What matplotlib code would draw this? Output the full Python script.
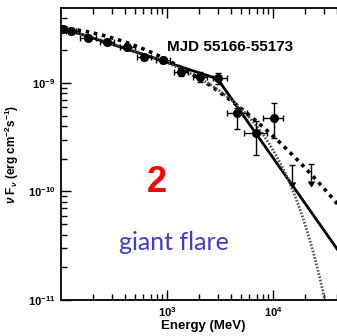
import numpy as np
import matplotlib
matplotlib.use("Agg")
import matplotlib.pyplot as plt
from matplotlib.ticker import LogLocator, FuncFormatter, NullFormatter

plt.rcParams['font.family'] = ['Liberation Sans', 'DejaVu Sans']
plt.rcParams['mathtext.fontset'] = 'custom'
plt.rcParams['mathtext.rm'] = 'Liberation Sans:bold'
plt.rcParams['mathtext.bf'] = 'Liberation Sans:bold'
plt.rcParams['mathtext.it'] = 'Liberation Sans:bold:italic'

# Fermi-LAT flux points (MeV, erg cm^-2 s^-1)
energy = [105, 124, 180, 272, 420, 607, 917, 1355, 2046, 3006, 4548, 6918, 10200]
flux = [3.15e-9, 3.02e-9, 2.61e-9, 2.39e-9, 2.15e-9, 1.74e-9, 1.63e-9,
        1.26e-9, 1.135e-9, 1.10e-9, 5.25e-10, 3.45e-10, 4.78e-10]
e_lo = [98, 112, 152, 232, 362, 520, 790, 1170, 1760, 2735, 3656, 5321, 8050]
e_hi = [115, 140, 212, 318, 495, 712, 1075, 1580, 2400, 3707, 5650, 8770, 12360]
f_lo = [2.95e-9, 2.85e-9, 2.47e-9, 2.26e-9, 2.03e-9, 1.63e-9, 1.52e-9,
        1.16e-9, 1.03e-9, 0.98e-9, 3.76e-10, 2.16e-10, 3.10e-10]
f_hi = [3.35e-9, 3.2e-9, 2.76e-9, 2.53e-9, 2.28e-9, 1.86e-9, 1.75e-9,
        1.37e-9, 1.25e-9, 1.236e-9, 5.88e-10, 4.46e-10, 6.58e-10]

# upper limits
ul_energy = [15000, 22700]
ul_flux = [1.75e-10, 1.78e-10]

# model parameters
bpl_eb, bpl_fb, bpl_g1, bpl_g2 = 3000.0, 1.09e-9, 2.32, 3.39
lp_e0, lp_f0, lp_alpha, lp_beta = 1000.0, 1.63e-9, 2.498, 0.0886
ec_k, ec_gamma, ec_cut = 3.2e-9, 2.26, 7200.0

e = np.logspace(2, 5, 400)
bpl = np.where(e < bpl_eb, bpl_fb * (e / bpl_eb) ** (2 - bpl_g1),
               bpl_fb * (e / bpl_eb) ** (2 - bpl_g2))
lp = lp_f0 * (e / lp_e0) ** (2 - lp_alpha - lp_beta * np.log(e / lp_e0))
plec = ec_k * (e / 100.0) ** (2 - ec_gamma) * np.exp(-e / ec_cut)

fig = plt.figure(figsize=(3.37, 3.36), dpi=100)
ax = fig.add_axes([61 / 337, 36 / 336, 318 / 337, 292 / 336])

ax.plot(e, bpl, '-', color='black', lw=2.0)
ax.plot(e, lp, color='black', lw=2.6, linestyle=(0, (1, 1.3)))
ax.plot(e, plec, color='#555555', lw=2.0, linestyle=(0, (0.6, 0.6)))

energy = np.array(energy)
flux = np.array(flux)
xerr = [energy - np.array(e_lo), np.array(e_hi) - energy]
yerr = [flux - np.array(f_lo), np.array(f_hi) - flux]
ax.errorbar(energy, flux, xerr=xerr, yerr=yerr, fmt='o', color='black',
            ms=5.5, elinewidth=1.0, capsize=2.5, capthick=1.0, zorder=5)
ax.errorbar(ul_energy, ul_flux, yerr=np.array(ul_flux) * 0.3, uplims=True,
            fmt='none', color='black', ecolor='black', elinewidth=1.0,
            capsize=2.5)

ax.set_xscale('log')
ax.set_yscale('log')
ax.set_xlim(100, 1e5)
ax.set_ylim(1e-11, 4.9e-9)

fmt = FuncFormatter(lambda v, p: r'$\mathbf{10^{%d}}$' % round(np.log10(v)))
ax.set_xticks([1e3, 1e4])
ax.set_yticks([1e-11, 1e-10, 1e-9])
ax.xaxis.set_minor_locator(LogLocator(base=10, subs=np.arange(2, 10), numticks=10))
ax.yaxis.set_minor_locator(LogLocator(base=10, subs=np.arange(2, 10), numticks=10))
ax.xaxis.set_major_formatter(fmt)
ax.yaxis.set_major_formatter(fmt)
ax.xaxis.set_minor_formatter(NullFormatter())
ax.yaxis.set_minor_formatter(NullFormatter())
ax.tick_params(which='both', direction='in', top=True, right=False,
               labelsize=8, width=1.0)
ax.tick_params(which='major', length=7, pad=4)
ax.tick_params(which='minor', length=4)
for s in ax.spines.values():
    s.set_linewidth(1.3)

ax.set_xlabel('Energy (MeV)', fontsize=9.5, fontweight='bold')
ax.xaxis.set_label_coords(0.447, -0.068)
ax.set_ylabel(r'$\nu$ F$_{\nu}$ (erg cm$^{-2}$s$^{-1}$)', fontsize=8.5,
              fontweight='bold')
ax.yaxis.set_label_coords(-0.125, 0.5)

fig.text(167 / 337, 1 - 47 / 336, 'MJD 55166-55173', fontsize=11,
         fontweight='bold', va='center', ha='left')
fig.text(157 / 337, 1 - 183 / 336, '2', color='#ff0000', fontsize=26,
         fontweight='bold', ha='center', va='center')
fig.text(174 / 337, 1 - 243 / 336, 'giant flare', color='#3c3cd2',
         fontsize=18, family=['Lato', 'DejaVu Sans'], ha='center', va='center')

fig.savefig('out.png', dpi=100)
